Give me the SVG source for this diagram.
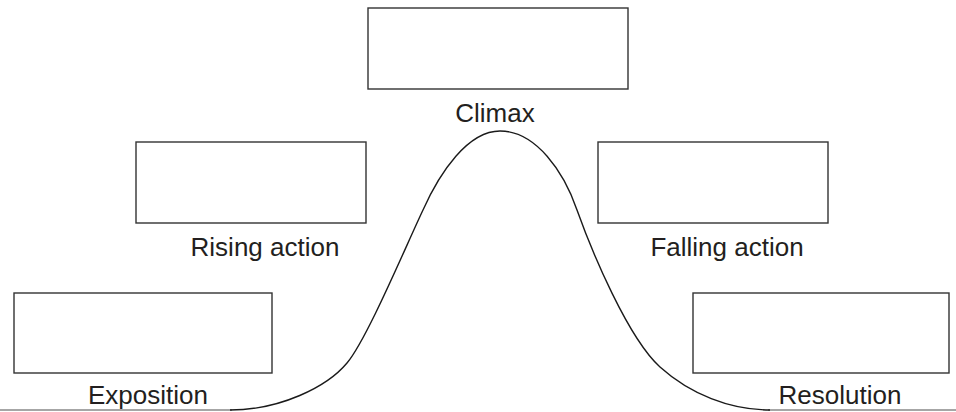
<svg xmlns="http://www.w3.org/2000/svg" width="956" height="412" viewBox="0 0 956 412">
<style>
.box{fill:#fff;stroke:#333;stroke-width:1.4}
.lbl{font-family:"Liberation Sans",Arial,sans-serif;font-size:26px;fill:#231f20;text-anchor:middle}
.curve{fill:none;stroke:#1a1a1a;stroke-width:1.4}
.base{fill:none;stroke:#888;stroke-width:1.5}
</style>
<g id="connectors">
<line class="base" x1="0" y1="410" x2="232" y2="410"/>
<line class="base" x1="768" y1="410" x2="956" y2="410"/>
<path class="curve" d="M230 410 C280 410 327 387 347 363 C367 339 405 248 423 210 C440 172 468 131 500 131 C536 131 564 172 577 210 C592 252 628 338 660 367 C690 394 730 410 770 410"/>
</g>
<g id="climax">
<rect class="box" x="368" y="8" width="260" height="81"/>
<text class="lbl" x="495" y="122">Climax</text>
</g>
<g id="rising">
<rect class="box" x="136" y="142" width="230" height="81"/>
<text class="lbl" x="265" y="256">Rising action</text>
</g>
<g id="falling">
<rect class="box" x="598" y="142" width="230" height="81"/>
<text class="lbl" x="727" y="256">Falling action</text>
</g>
<g id="exposition">
<rect class="box" x="14" y="293" width="258" height="80"/>
<text class="lbl" x="148" y="404">Exposition</text>
</g>
<g id="resolution">
<rect class="box" x="693" y="293" width="256" height="80"/>
<text class="lbl" x="840" y="404">Resolution</text>
</g>
</svg>
